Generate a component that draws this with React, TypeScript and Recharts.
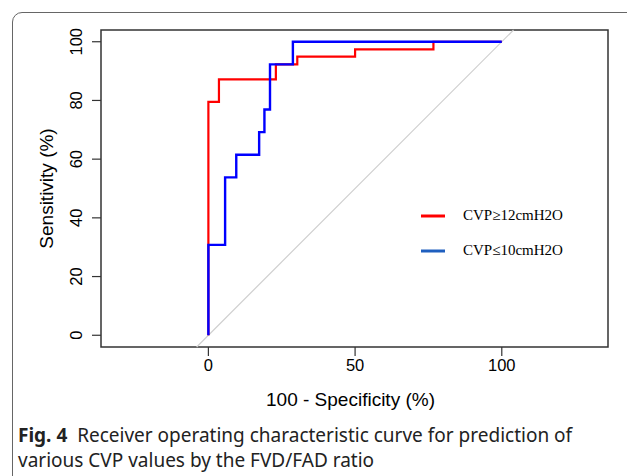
import { LineChart, Line, XAxis, YAxis, ReferenceLine, ReferenceArea } from "recharts";

// ROC steps (x = 100 - specificity, y = sensitivity)
const RED_X = [0, 0, 3.6, 23, 30.3, 50, 76.7, 100];
const RED_Y = [0, 79.5, 87.2, 92.3, 94.9, 97.4, 100, 100];
const BLUE_X = [0, 0, 5.7, 9.5, 17.3, 19.1, 21, 28.8, 100];
const BLUE_Y = [0, 30.8, 53.8, 61.5, 69.2, 76.9, 92.3, 100, 100];

const X_TICKS = [0, 50, 100];
const Y_TICKS = [0, 20, 40, 60, 80, 100];
const X_DOMAIN = [-36.6, 136.2];
const Y_DOMAIN = [-4, 104];

const LEGEND = [
  { label: "CVP≥12cmH2O", color: "#ff0000" },
  { label: "CVP≤10cmH2O", color: "#1f5fbf" },
];

const redData = RED_X.map((x, i) => ({ x, y: RED_Y[i] }));
const blueData = BLUE_X.map((x, i) => ({ x, y: BLUE_Y[i] }));

const AXIS_FONT = "'Liberation Sans', Arial, sans-serif";
const YAXIS_W = 70;
const XAXIS_H = 40;

const YTick = (props: any) => {
  const { x, y, payload } = props;
  return (
    <text
      transform={`translate(${x - 8},${y}) rotate(-90)`}
      textAnchor="middle"
      fontFamily={AXIS_FONT}
      fontSize={16.5}
      fill="#000"
    >
      {payload.value}
    </text>
  );
};

const XTick = (props: any) => {
  const { x, y, payload } = props;
  return (
    <text x={x} y={y + 13} textAnchor="middle" fontFamily={AXIS_FONT} fontSize={16.5} fill="#000">
      {payload.value}
    </text>
  );
};

const YLabel = (props: any) => {
  const { viewBox } = props;
  const cx = viewBox.x + 22;
  const cy = viewBox.y + viewBox.height / 2;
  return (
    <text
      transform={`translate(${cx},${cy}) rotate(-90)`}
      textAnchor="middle"
      fontFamily={AXIS_FONT}
      fontSize={19}
      fill="#000"
    >
      Sensitivity (%)
    </text>
  );
};

const XLabel = (props: any) => {
  const { viewBox } = props;
  return (
    <text
      x={viewBox.x + viewBox.width / 2 - 4}
      y={viewBox.y + 59}
      textAnchor="middle"
      fontFamily={AXIS_FONT}
      fontSize={19}
      fill="#000"
    >
      100 - Specificity (%)
    </text>
  );
};

const LegendBox = () => (
  <div
    style={{
      position: "absolute",
      left: 418,
      top: 198,
      fontFamily: "'Liberation Serif', 'Times New Roman', serif",
      fontSize: 15,
    }}
  >
    {LEGEND.map((item) => (
      <div key={item.label} style={{ display: "flex", alignItems: "center", height: 35 }}>
        <svg width={45} height={6}>
          <line x1={3} y1={3} x2={27} y2={3} stroke={item.color} strokeWidth={3} />
        </svg>
        <span>{item.label}</span>
      </div>
    ))}
  </div>
);

export default function App() {
  return (
    <div style={{ position: "absolute", left: 0, top: 0, width: 627, height: 476, overflow: "hidden", background: "#fff" }}>
      <div
        style={{
          position: "absolute",
          left: 12,
          top: 12,
          width: 700,
          height: 500,
          border: "1.5px solid #666",
          borderRadius: 10,
        }}
      />
      <LineChart
        width={627}
        height={476}
        margin={{ top: 30, right: 19, left: 101 - YAXIS_W, bottom: 129 - XAXIS_H }}
        style={{ position: "absolute", left: 0, top: 0 }}
      >
        <XAxis
          type="number"
          dataKey="x"
          domain={X_DOMAIN}
          ticks={X_TICKS}
          allowDataOverflow
          axisLine={false}
          tickSize={9}
          tickLine={{ stroke: "#333", strokeWidth: 1.2 }}
          tick={<XTick />}
          height={XAXIS_H}
          label={<XLabel />}
        />
        <YAxis
          type="number"
          dataKey="y"
          domain={Y_DOMAIN}
          ticks={Y_TICKS}
          allowDataOverflow
          axisLine={false}
          tickSize={9}
          tickLine={{ stroke: "#333", strokeWidth: 1.2 }}
          tick={<YTick />}
          width={YAXIS_W}
          label={<YLabel />}
        />
        <ReferenceArea
          x1={X_DOMAIN[0]}
          x2={X_DOMAIN[1]}
          y1={Y_DOMAIN[0]}
          y2={Y_DOMAIN[1]}
          fill="none"
          fillOpacity={0}
          stroke="#333"
          strokeWidth={1.5}
        />
        <ReferenceLine
          segment={[
            { x: Y_DOMAIN[0], y: Y_DOMAIN[0] },
            { x: Y_DOMAIN[1], y: Y_DOMAIN[1] },
          ]}
          stroke="#cfcfcf"
          strokeWidth={1.2}
        />
        <Line
          data={redData}
          dataKey="y"
          type="stepAfter"
          stroke="#ff0000"
          strokeWidth={2.2}
          dot={false}
          isAnimationActive={false}
        />
        <Line
          data={blueData}
          dataKey="y"
          type="stepAfter"
          stroke="#0000ff"
          strokeWidth={2.4}
          dot={false}
          isAnimationActive={false}
        />
      </LineChart>
      <LegendBox />
      <div
        style={{
          position: "absolute",
          left: 18,
          top: 423,
          width: 610,
          fontFamily: "'Noto Sans', 'Open Sans', sans-serif",
          fontSize: 19,
          lineHeight: "25px",
          color: "#222",
        }}
      >
        <b>Fig. 4</b>&nbsp; Receiver operating characteristic curve for prediction of
        <br />
        various CVP values by the FVD/FAD ratio
      </div>
    </div>
  );
}
